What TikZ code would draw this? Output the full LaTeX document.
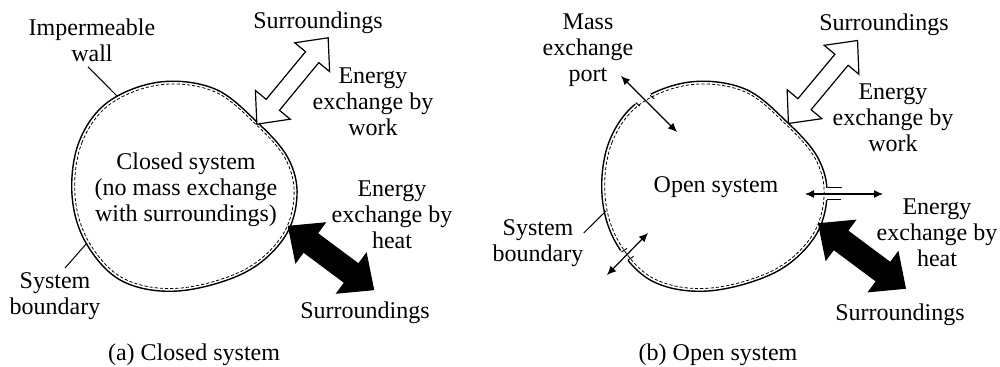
\documentclass[tikz,border=0pt]{standalone}
\usepackage{fontspec}
\setmainfont{Liberation Serif}
\usepackage{tikz}
\usetikzlibrary{arrows.meta}
\usetikzlibrary{shapes.arrows}
\usetikzlibrary{positioning}
\tikzset{
  Blob/.style={insert path={plot[smooth cycle, tension=0.6] coordinates {
    (72,195) (79,142) (108,102) (160,82) (215,89) (258,123) (288,158)
    (297,196) (284,238) (244,273) (178,291) (122,281) (86,243)}}},
  Wall/.style={line width=0.7pt}, % Wand
  Boundary/.style={line width=0.4pt, dash pattern=on 1.6pt off 1pt}, % Systemgrenze
  Leader/.style={line width=0.5pt},
  Label/.style={align=center, inner sep=0pt},
  Gap/.style={fill=white, inner sep=0pt, minimum width=#1, minimum height=4pt},
  PortArrow/.style={line width=0.6pt, {Latex[length=4.5pt,width=4pt]}-{Latex[length=4.5pt,width=4pt]}},
  WorkArrow/.style={double arrow, draw, fill=white, line width=0.6pt, sloped,
    inner xsep=0pt, inner ysep=4pt, text height=0pt, text depth=0pt,
    double arrow head extend=7pt, double arrow tip angle=84, minimum height=#1},
  HeatArrow/.style={double arrow, draw, fill=black, line width=0.6pt, sloped,
    inner xsep=0pt, inner ysep=5.5pt, text height=0pt, text depth=0pt,
    double arrow head extend=6.5pt, double arrow tip angle=84, minimum height=#1}
}

\begin{document}
\begin{tikzpicture}[x=0.5pt, y=-0.5pt, font=\fontsize{12}{13}\selectfont]
\useasboundingbox (0,0) rectangle (1000,367);

%Waende
\draw[Wall, Blob];
\begin{scope}[shift={(530,0)}]
  \draw[Wall, Blob];
\end{scope}

%Oeffnungen
\node[Gap=9pt, rotate=27] (gap1) at (643,99) {};
\node[Gap=6pt, rotate=-55] (gap2) at (625,255) {};
\node[Gap=6pt, rotate=90] (gap3) at (828,194) {};

%Systemgrenzen
\begin{scope}[shift={(185,186)}, scale=0.974, shift={(-185,-186)}]
  \draw[Boundary, Blob];
\end{scope}
\begin{scope}[shift={(715,186)}, scale=0.974, shift={(-185,-186)}]
  \draw[Boundary, Blob];
\end{scope}

%Texte (a)
\node[Label] (wall) at (92,40) {Impermeable\\wall};
\node[Label] (sb1) at (55,296) {System\\boundary};
\node[Label] (closed) at (186,190) {Closed system\\(no mass exchange\\with surroundings)};
\node[Label] (sur1) at (318,23) {Surroundings};
\node[Label] (work1) at (373,102) {Energy\\exchange by\\work};
\node[Label] (heat1) at (392,215) {Energy\\exchange by\\heat};
\node[Label] (sur2) at (365,313) {Surroundings};
\node[Label] (capa) at (194,355) {(a) Closed system};

%Texte (b)
\node[Label] (port) at (588,50) {Mass\\exchange\\port};
\node[Label] (open) at (716,187) {Open system};
\node[Label] (sb2) at (538,243) {System\\boundary};
\node[Label] (sur3) at (884,25) {Surroundings};
\node[Label] (work2) at (893,118) {Energy\\exchange by\\work};
\node[Label] (heat2) at (937,233) {Energy\\exchange by\\heat};
\node[Label] (sur4) at (900,315) {Surroundings};
\node[Label] (capb) at (718,355) {(b) Open system};

%Punkte
\coordinate (wallpt) at (117,96);
\coordinate (sb1pt) at (87,243);
\coordinate (sb2pt) at (606,211);
\coordinate (w1a) at (257,124);
\coordinate (w1b) at (328,38);
\coordinate (h1a) at (288,226);
\coordinate (h1b) at (374,290);
\coordinate (w2a) at (788,124);
\coordinate (w2b) at (858,40);
\coordinate (h2a) at (819,224);
\coordinate (h2b) at (905,288);
\coordinate (p1a) at (621,76);
\coordinate (p1b) at (677,132);
\coordinate (p2a) at (607,275);
\coordinate (p2b) at (648,233);
\coordinate (p3a) at (805,194);
\coordinate (p3b) at (883,194);

%Hinweislinien
\draw[Leader] ([xshift=-2pt, yshift=-2.5pt]wall.south) -- (wallpt);
\draw[Leader] ([xshift=5pt, yshift=2pt]sb1.north) -- (sb1pt);
\draw[Leader] ([yshift=5pt]sb2.east) -- (sb2pt);

%Stutzen
\draw[Leader] (635.8,102.6) -- ++(4,3.5);
\draw[Leader] (650.2,95.4) -- ++(4,3.5);
\draw[Leader] (621.5,252) -- ++(5.5,-3.6);
\draw[Leader] (628,260) -- ++(5.5,-3.6);
\draw[Leader] (828,188) -- (842,188);
\draw[Leader] (826.5,200) -- (841,200);

%Massen- und Energiestroeme
\draw[PortArrow] (p1a) -- (p1b);
\draw[PortArrow] (p2a) -- (p2b);
\draw[PortArrow] (p3a) -- (p3b);

\path (w1a) -- node[WorkArrow=56pt] (work1arr) {} (w1b);
\path (h1a) -- node[HeatArrow=53pt] (heat1arr) {} (h1b);
\path (w2a) -- node[WorkArrow=54pt] (work2arr) {} (w2b);
\path (h2a) -- node[HeatArrow=54pt] (heat2arr) {} (h2b);

\end{tikzpicture}
\end{document}
